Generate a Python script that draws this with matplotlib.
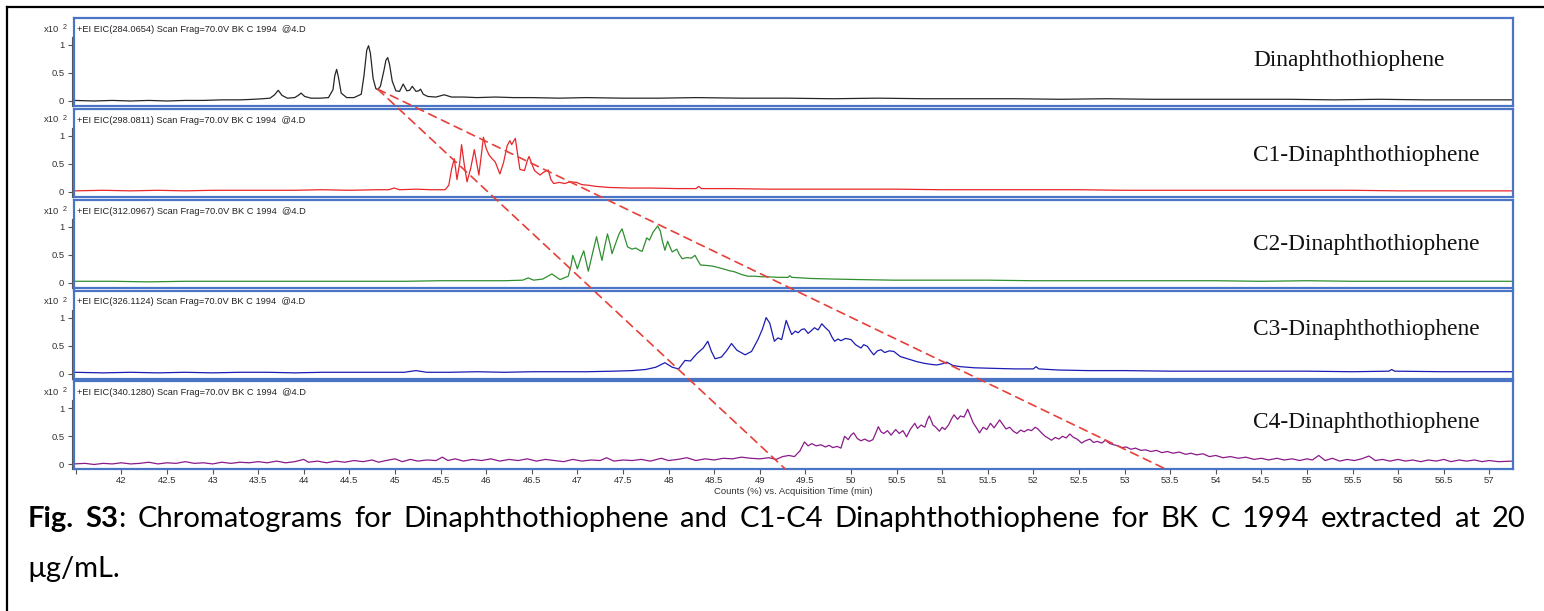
import matplotlib
matplotlib.use("Agg")
import matplotlib.pyplot as plt
from matplotlib.lines import Line2D
from matplotlib.patches import ConnectionPatch
import numpy as np

# extracted ion chromatograms, (retention time in min, counts x10^2)
eic_c0 = [(41.48, 0.01), (41.7, 0.00), (41.9, 0.01), (42.1, 0.00), (42.3, 0.01), (42.5, 0.00),
          (42.7, 0.01), (42.9, 0.01), (43.1, 0.02), (43.3, 0.02), (43.45, 0.03), (43.55, 0.04),
          (43.63, 0.05), (43.68, 0.11), (43.72, 0.19), (43.76, 0.10), (43.82, 0.05), (43.9, 0.06),
          (43.94, 0.10), (43.97, 0.14), (44.01, 0.08), (44.08, 0.05), (44.18, 0.05), (44.27, 0.06),
          (44.32, 0.20), (44.34, 0.45), (44.36, 0.56), (44.38, 0.42), (44.41, 0.14), (44.47, 0.06),
          (44.55, 0.06), (44.63, 0.12), (44.66, 0.45), (44.69, 0.90), (44.71, 0.98), (44.73, 0.85),
          (44.76, 0.40), (44.79, 0.22), (44.81, 0.20), (44.84, 0.26), (44.88, 0.55), (44.90, 0.72),
          (44.92, 0.77), (44.94, 0.65), (44.97, 0.35), (45.01, 0.18), (45.05, 0.17), (45.09, 0.30),
          (45.13, 0.18), (45.16, 0.19), (45.19, 0.26), (45.23, 0.17), (45.26, 0.18), (45.28, 0.21),
          (45.31, 0.12), (45.36, 0.08), (45.45, 0.07), (45.54, 0.11), (45.62, 0.07), (45.75, 0.07),
          (45.9, 0.06), (46.1, 0.07), (46.3, 0.06), (46.5, 0.06), (46.8, 0.05), (47.1, 0.06),
          (47.5, 0.05), (47.9, 0.05), (48.3, 0.06), (48.8, 0.05), (49.3, 0.05), (49.8, 0.04),
          (50.3, 0.05), (50.8, 0.04), (51.3, 0.04), (51.8, 0.04), (52.3, 0.03), (52.8, 0.04),
          (53.3, 0.03), (53.8, 0.03), (54.3, 0.03), (54.8, 0.03), (55.3, 0.02), (55.8, 0.03),
          (56.3, 0.02), (56.8, 0.02), (57.26, 0.02)]

eic_c1 = [(41.48, 0.02), (41.8, 0.03), (42.1, 0.02), (42.4, 0.03), (42.7, 0.02), (43.0, 0.03),
          (43.3, 0.03), (43.6, 0.03), (43.9, 0.03), (44.2, 0.04), (44.5, 0.03), (44.8, 0.04),
          (44.93, 0.04), (44.99, 0.07), (45.05, 0.04), (45.23, 0.05), (45.4, 0.04), (45.55, 0.04),
          (45.59, 0.12), (45.62, 0.40), (45.65, 0.59), (45.68, 0.22), (45.71, 0.52), (45.73, 0.84),
          (45.76, 0.48), (45.79, 0.18), (45.83, 0.42), (45.87, 0.75), (45.90, 0.48), (45.92, 0.30),
          (45.95, 0.70), (45.97, 0.97), (46.00, 0.77), (46.03, 0.66), (46.06, 0.60), (46.10, 0.53),
          (46.15, 0.32), (46.19, 0.52), (46.23, 0.82), (46.26, 0.91), (46.28, 0.84), (46.30, 0.90),
          (46.32, 0.95), (46.34, 0.72), (46.37, 0.40), (46.42, 0.38), (46.45, 0.55), (46.47, 0.63),
          (46.50, 0.50), (46.53, 0.38), (46.56, 0.34), (46.59, 0.30), (46.63, 0.35), (46.68, 0.39),
          (46.71, 0.22), (46.74, 0.15), (46.80, 0.17), (46.86, 0.15), (46.92, 0.18), (46.99, 0.17),
          (47.05, 0.13), (47.12, 0.12), (47.2, 0.10), (47.35, 0.08), (47.57, 0.07), (47.8, 0.07),
          (48.1, 0.06), (48.3, 0.06), (48.33, 0.10), (48.36, 0.06), (48.7, 0.06), (49.1, 0.05),
          (49.5, 0.05), (50.0, 0.05), (50.5, 0.05), (51.0, 0.04), (51.5, 0.04), (52.0, 0.04),
          (52.5, 0.04), (53.0, 0.03), (53.5, 0.03), (54.0, 0.03), (54.5, 0.03), (55.0, 0.03),
          (55.5, 0.03), (56.0, 0.02), (56.5, 0.02), (57.26, 0.02)]

eic_c2 = [(41.48, 0.03), (41.9, 0.03), (42.3, 0.02), (42.7, 0.03), (43.1, 0.03), (43.5, 0.03),
          (43.9, 0.03), (44.3, 0.03), (44.7, 0.03), (45.1, 0.03), (45.5, 0.04), (45.9, 0.04),
          (46.2, 0.04), (46.4, 0.05), (46.46, 0.09), (46.52, 0.05), (46.62, 0.07), (46.72, 0.16),
          (46.81, 0.06), (46.9, 0.12), (46.93, 0.30), (46.95, 0.49), (46.98, 0.35), (47.0, 0.25),
          (47.04, 0.45), (47.07, 0.57), (47.10, 0.35), (47.12, 0.21), (47.17, 0.55), (47.21, 0.82),
          (47.24, 0.60), (47.27, 0.40), (47.30, 0.65), (47.33, 0.87), (47.36, 0.68), (47.38, 0.52),
          (47.43, 0.75), (47.46, 0.88), (47.49, 0.96), (47.52, 0.80), (47.55, 0.64), (47.60, 0.60),
          (47.64, 0.62), (47.68, 0.58), (47.71, 0.56), (47.74, 0.70), (47.76, 0.80), (47.79, 0.76),
          (47.83, 0.90), (47.88, 1.01), (47.91, 0.92), (47.93, 0.76), (47.96, 0.58), (47.99, 0.74),
          (48.02, 0.62), (48.04, 0.55), (48.09, 0.60), (48.12, 0.50), (48.15, 0.43), (48.2, 0.45),
          (48.25, 0.44), (48.29, 0.49), (48.32, 0.40), (48.35, 0.32), (48.42, 0.31), (48.48, 0.30),
          (48.53, 0.28), (48.6, 0.25), (48.66, 0.22), (48.72, 0.20), (48.8, 0.15), (48.87, 0.12),
          (48.95, 0.12), (49.02, 0.11), (49.09, 0.11), (49.2, 0.10), (49.31, 0.10), (49.33, 0.13),
          (49.35, 0.10), (49.56, 0.08), (49.8, 0.07), (50.1, 0.06), (50.47, 0.05), (51.0, 0.05),
          (51.5, 0.05), (52.0, 0.04), (52.5, 0.04), (53.0, 0.04), (53.5, 0.04), (54.0, 0.04),
          (54.5, 0.03), (55.0, 0.04), (55.5, 0.03), (56.0, 0.03), (56.5, 0.03), (57.26, 0.03)]

eic_c3 = [(41.48, 0.03), (41.8, 0.02), (42.1, 0.03), (42.4, 0.02), (42.7, 0.03), (43.0, 0.02),
          (43.3, 0.03), (43.6, 0.03), (43.9, 0.02), (44.2, 0.03), (44.5, 0.03), (44.8, 0.03),
          (45.1, 0.03), (45.23, 0.06), (45.35, 0.03), (45.6, 0.03), (45.9, 0.04), (46.2, 0.03),
          (46.5, 0.04), (46.8, 0.04), (47.1, 0.04), (47.4, 0.05), (47.6, 0.06), (47.75, 0.08),
          (47.86, 0.12), (47.96, 0.20), (48.04, 0.12), (48.11, 0.09), (48.18, 0.24), (48.24, 0.23),
          (48.31, 0.36), (48.38, 0.46), (48.43, 0.58), (48.47, 0.40), (48.51, 0.27), (48.58, 0.30),
          (48.64, 0.42), (48.69, 0.54), (48.75, 0.42), (48.84, 0.34), (48.91, 0.40), (48.98, 0.61),
          (49.03, 0.80), (49.07, 1.00), (49.11, 0.90), (49.16, 0.58), (49.20, 0.64), (49.24, 0.61),
          (49.29, 0.95), (49.32, 0.82), (49.35, 0.70), (49.39, 0.76), (49.42, 0.73), (49.46, 0.79),
          (49.49, 0.80), (49.53, 0.72), (49.56, 0.76), (49.6, 0.82), (49.64, 0.78), (49.68, 0.89),
          (49.72, 0.82), (49.76, 0.76), (49.79, 0.66), (49.82, 0.58), (49.86, 0.62), (49.89, 0.59),
          (49.94, 0.63), (50.0, 0.61), (50.05, 0.52), (50.11, 0.46), (50.14, 0.52), (50.18, 0.49),
          (50.22, 0.40), (50.25, 0.34), (50.29, 0.41), (50.33, 0.43), (50.37, 0.38), (50.42, 0.41),
          (50.47, 0.40), (50.54, 0.31), (50.6, 0.28), (50.66, 0.25), (50.72, 0.22), (50.8, 0.19),
          (50.88, 0.17), (50.94, 0.16), (51.0, 0.18), (51.05, 0.21), (51.12, 0.15), (51.2, 0.13),
          (51.35, 0.11), (51.56, 0.10), (51.8, 0.09), (52.0, 0.09), (52.03, 0.13), (52.06, 0.09),
          (52.28, 0.07), (52.6, 0.06), (53.0, 0.06), (53.5, 0.05), (54.0, 0.05), (54.5, 0.05),
          (55.0, 0.05), (55.5, 0.04), (55.9, 0.05), (55.93, 0.08), (55.96, 0.05), (56.5, 0.04),
          (57.26, 0.04)]

eic_c4 = [(41.48, 0.01), (41.6, 0.02), (41.7, 0.00), (41.8, 0.02), (41.9, 0.01), (42.0, 0.03),
          (42.1, 0.01), (42.2, 0.02), (42.3, 0.04), (42.4, 0.01), (42.5, 0.03), (42.6, 0.02),
          (42.7, 0.05), (42.8, 0.02), (42.9, 0.03), (43.0, 0.01), (43.1, 0.04), (43.2, 0.02),
          (43.3, 0.04), (43.4, 0.03), (43.5, 0.05), (43.6, 0.03), (43.7, 0.06), (43.8, 0.03),
          (43.9, 0.05), (44.0, 0.09), (44.05, 0.04), (44.15, 0.06), (44.25, 0.03), (44.35, 0.06),
          (44.45, 0.04), (44.55, 0.07), (44.65, 0.05), (44.75, 0.08), (44.82, 0.04), (44.9, 0.07),
          (45.0, 0.10), (45.08, 0.05), (45.17, 0.09), (45.25, 0.06), (45.35, 0.08), (45.45, 0.07),
          (45.52, 0.13), (45.58, 0.07), (45.66, 0.10), (45.75, 0.06), (45.85, 0.09), (45.95, 0.07),
          (46.05, 0.10), (46.15, 0.06), (46.25, 0.09), (46.35, 0.07), (46.45, 0.10), (46.55, 0.06),
          (46.65, 0.09), (46.75, 0.07), (46.85, 0.05), (46.95, 0.09), (47.05, 0.06), (47.15, 0.08),
          (47.25, 0.07), (47.32, 0.12), (47.4, 0.06), (47.5, 0.08), (47.6, 0.07), (47.7, 0.09),
          (47.8, 0.06), (47.92, 0.11), (48.0, 0.07), (48.1, 0.09), (48.2, 0.12), (48.3, 0.07),
          (48.4, 0.10), (48.5, 0.08), (48.6, 0.11), (48.7, 0.10), (48.8, 0.13), (48.9, 0.11),
          (49.0, 0.10), (49.1, 0.12), (49.18, 0.09), (49.25, 0.14), (49.32, 0.16), (49.38, 0.14),
          (49.44, 0.24), (49.49, 0.40), (49.53, 0.33), (49.57, 0.37), (49.62, 0.33), (49.67, 0.35),
          (49.72, 0.31), (49.76, 0.34), (49.8, 0.30), (49.85, 0.32), (49.89, 0.29), (49.93, 0.50),
          (49.97, 0.44), (50.0, 0.52), (50.03, 0.56), (50.07, 0.46), (50.11, 0.42), (50.15, 0.45),
          (50.2, 0.41), (50.24, 0.44), (50.27, 0.55), (50.3, 0.67), (50.33, 0.58), (50.36, 0.55),
          (50.4, 0.60), (50.44, 0.52), (50.49, 0.62), (50.53, 0.55), (50.57, 0.60), (50.61, 0.49),
          (50.65, 0.62), (50.7, 0.73), (50.73, 0.64), (50.77, 0.70), (50.81, 0.66), (50.84, 0.80),
          (50.86, 0.86), (50.9, 0.70), (50.93, 0.66), (50.97, 0.59), (51.0, 0.66), (51.03, 0.62),
          (51.07, 0.70), (51.1, 0.80), (51.13, 0.88), (51.17, 0.80), (51.2, 0.86), (51.24, 0.84),
          (51.28, 0.98), (51.31, 0.86), (51.34, 0.74), (51.38, 0.64), (51.41, 0.56), (51.45, 0.66),
          (51.49, 0.62), (51.53, 0.73), (51.57, 0.65), (51.6, 0.72), (51.63, 0.79), (51.67, 0.70),
          (51.7, 0.63), (51.74, 0.66), (51.78, 0.59), (51.82, 0.55), (51.86, 0.61), (51.9, 0.58),
          (51.94, 0.62), (51.98, 0.60), (52.02, 0.66), (52.05, 0.63), (52.09, 0.56), (52.13, 0.50),
          (52.17, 0.46), (52.2, 0.43), (52.24, 0.48), (52.28, 0.45), (52.32, 0.50), (52.36, 0.47),
          (52.4, 0.54), (52.44, 0.48), (52.48, 0.45), (52.53, 0.38), (52.57, 0.42), (52.62, 0.45),
          (52.66, 0.39), (52.7, 0.41), (52.75, 0.38), (52.79, 0.43), (52.84, 0.37), (52.88, 0.35),
          (52.93, 0.33), (52.97, 0.30), (53.02, 0.31), (53.07, 0.27), (53.12, 0.29), (53.18, 0.25),
          (53.23, 0.26), (53.29, 0.23), (53.35, 0.25), (53.41, 0.21), (53.47, 0.23), (53.53, 0.20),
          (53.6, 0.22), (53.67, 0.18), (53.73, 0.20), (53.79, 0.17), (53.86, 0.19), (53.93, 0.14),
          (54.0, 0.16), (54.08, 0.12), (54.16, 0.14), (54.25, 0.11), (54.33, 0.13), (54.42, 0.09),
          (54.5, 0.11), (54.58, 0.08), (54.67, 0.11), (54.75, 0.08), (54.84, 0.10), (54.92, 0.07),
          (55.0, 0.10), (55.06, 0.08), (55.13, 0.16), (55.2, 0.07), (55.28, 0.11), (55.36, 0.06),
          (55.44, 0.09), (55.52, 0.07), (55.6, 0.10), (55.68, 0.15), (55.75, 0.07), (55.83, 0.09),
          (55.91, 0.06), (56.0, 0.09), (56.08, 0.06), (56.16, 0.08), (56.25, 0.05), (56.33, 0.08),
          (56.42, 0.06), (56.5, 0.09), (56.58, 0.05), (56.67, 0.08), (56.75, 0.06), (56.84, 0.08),
          (56.92, 0.05), (57.0, 0.07), (57.1, 0.05), (57.26, 0.06)]

traces = [eic_c0, eic_c1, eic_c2, eic_c3, eic_c4]
ion_masses = ["284.0654", "298.0811", "312.0967", "326.1124", "340.1280"]
compounds = ["Dinaphthothiophene", "C1-Dinaphthothiophene", "C2-Dinaphthothiophene",
             "C3-Dinaphthothiophene", "C4-Dinaphthothiophene"]
trace_colors = ["#262626", "#e8262b", "#2f8f2f", "#1c1cb4", "#8a1a8a"]

x_ticks = [41.5, 42, 42.5, 43, 43.5, 44, 44.5, 45, 45.5, 46, 46.5, 47, 47.5, 48, 48.5, 49,
           49.5, 50, 50.5, 51, 51.5, 52, 52.5, 53, 53.5, 54, 54.5, 55, 55.5, 56, 56.5, 57]
x_tick_labels = [""] + ["%g" % t for t in x_ticks[1:]]

# homologue trend: from the parent peak valley down through the C4 trace
trend_start = (44.81, 0.21)
trend_ends = [(49.28, -0.08), (53.45, -0.08)]

FIG_W, FIG_H = 1544, 611
FRAME_BLUE = "#4a74c4"
AX_LEFT, AX_WIDTH, AX_HEIGHT = 74, 1439, 88
panel_tops = [17.5, 108.5, 199.5, 290.5, 381.0]
label_heights = [0.517, 0.47, 0.483, 0.56, 0.523]


def px_rect(left, top, width, height):
    return [left / FIG_W, 1 - (top + height) / FIG_H, width / FIG_W, height / FIG_H]


fig = plt.figure(figsize=(FIG_W / 100, FIG_H / 100), dpi=100)

axes = []
for i, (data, color) in enumerate(zip(traces, trace_colors)):
    top = panel_tops[i]
    ax = fig.add_axes(px_rect(AX_LEFT, top, AX_WIDTH, AX_HEIGHT))
    t, v = np.array(data).T
    ax.plot(t, v, color=color, lw=0.9)
    ax.set_xlim(41.48, 57.26)
    ax.set_ylim(-0.08, 1.48)

    for sp in ax.spines.values():
        sp.set_color(FRAME_BLUE)
        sp.set_linewidth(1.6)

    ax.set_yticks([0, 0.5, 1])
    ax.set_yticklabels(["0", "0.5", "1"])
    ax.tick_params(axis="y", direction="out", length=4.5, width=0.8, color="#555555",
                   labelsize=6.8, labelcolor="#333333", pad=2.5)
    for lab in ax.get_yticklabels():
        lab.set_family("Liberation Sans")

    # thin grey axis line just outside the blue frame
    ax.plot([-0.0017, -0.0017], [0.0, 0.78], transform=ax.transAxes, color="#555555",
            lw=0.8, clip_on=False)

    if i == len(traces) - 1:
        ax.set_xticks(x_ticks)
        ax.set_xticklabels(x_tick_labels, family="Liberation Sans")
        ax.tick_params(axis="x", direction="out", length=3.5, width=0.8, color="#555555",
                       labelsize=6.8, labelcolor="#333333", pad=1.5)
        ax.set_xlabel("Counts (%) vs. Acquisition Time (min)", fontsize=6.8,
                      family="Liberation Sans", color="#333333", labelpad=1.5)
    else:
        ax.set_xticks([])

    ax.text(3 / AX_WIDTH, 1 - 11.5 / AX_HEIGHT,
            "+EI EIC(%s) Scan Frag=70.0V BK C 1994  @4.D" % ion_masses[i],
            transform=ax.transAxes, ha="left", va="center", fontsize=6.7,
            family="Liberation Sans", color="#222222")
    ax.text((1253 - AX_LEFT) / AX_WIDTH, label_heights[i], compounds[i],
            transform=ax.transAxes, ha="left", va="center", fontsize=16.8,
            family="Liberation Serif", color="#111111")

    fig.text(59 / FIG_W, 1 - (top + 11.5) / FIG_H, "x10", ha="right", va="center",
             fontsize=6.8, family="Liberation Sans", color="#333333")
    fig.text(62.5 / FIG_W, 1 - (top + 10) / FIG_H, "2", ha="left", va="center",
             fontsize=5.2, family="Liberation Sans", color="#333333")
    axes.append(ax)

for end in trend_ends:
    con = ConnectionPatch(xyA=trend_start, coordsA=axes[0].transData,
                          xyB=end, coordsB=axes[-1].transData,
                          color="#e6403a", lw=1.2, linestyle=(0, (5, 3.5)))
    fig.add_artist(con)

# page border around the figure block
fig.add_artist(Line2D([7 / FIG_W, 7 / FIG_W], [0, 1 - 6.5 / FIG_H], color="black", lw=1.6))
fig.add_artist(Line2D([7 / FIG_W, 1], [1 - 6.5 / FIG_H, 1 - 6.5 / FIG_H], color="black", lw=1.6))


def justified_line(y, x0, x1, words, size):
    renderer = fig.canvas.get_renderer()
    groups = []
    for word in words:
        parts = []
        for s, weight in word:
            t = fig.text(0, y, s, fontsize=size, fontweight=weight, family="Lato",
                         ha="left", va="baseline", color="black")
            parts.append((t, t.get_window_extent(renderer).width / FIG_W))
        groups.append(parts)
    widths = [sum(w for _, w in g) for g in groups]
    gap = (x1 - x0 - sum(widths)) / (len(groups) - 1)
    x = x0
    for g, gw in zip(groups, widths):
        xi = x
        for t, w in g:
            t.set_x(xi)
            xi += w
        x += gw + gap


caption_words = [[("Fig.", "bold")], [("S3", "bold"), (":", "normal")]] + [
    [(w, "normal")] for w in "Chromatograms for Dinaphthothiophene and C1-C4 "
                             "Dinaphthothiophene for BK C 1994 extracted at 20".split()]
CAPTION_SIZE = 21
justified_line(1 - 526.7 / FIG_H, 27.7 / FIG_W, 1525 / FIG_W, caption_words, CAPTION_SIZE)
fig.text(27.7 / FIG_W, 1 - 577 / FIG_H, "µg/mL.", fontsize=CAPTION_SIZE, family="Lato",
         ha="left", va="baseline", color="black")

fig.savefig("out.png", dpi=100)
